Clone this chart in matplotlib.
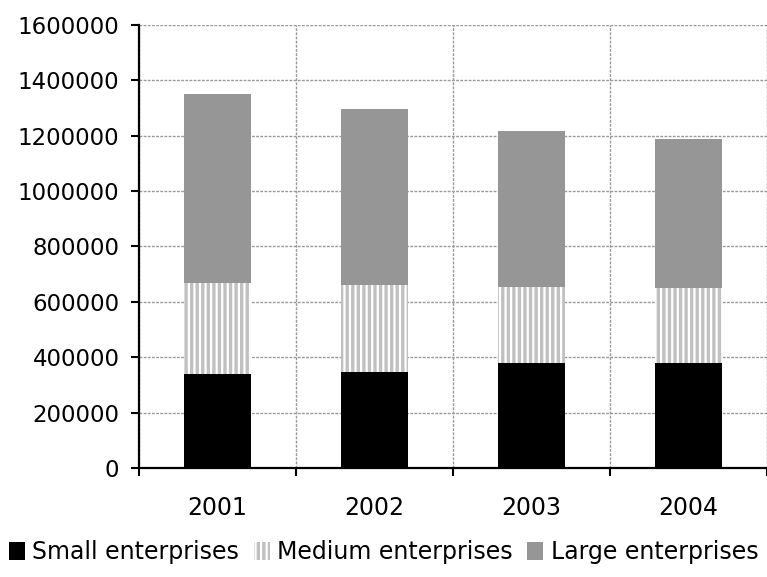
"""Enterprises by size class, stacked per year (2001-2004)."""

import matplotlib

matplotlib.use("Agg")
import matplotlib.pyplot as plt
import numpy as np
from matplotlib.patches import Patch

YEARS = ["2001", "2002", "2003", "2004"]
SMALL = [339000, 347000, 379000, 379000]
MEDIUM = [329000, 314000, 276000, 269000]
LARGE = [682000, 636000, 562000, 540000]

YTICKS = np.arange(0, 1600001, 200000)

plt.rcParams.update(
    {
        "font.family": "DejaVu Sans",
        "hatch.linewidth": 2.4,
    }
)

fig = plt.figure(figsize=(7.67, 5.77), dpi=100)
ax = fig.add_axes([0.181, 0.189, 0.819, 0.768])

x = np.arange(len(YEARS))
width = 0.43
small = np.array(SMALL)
medium = np.array(MEDIUM)
large = np.array(LARGE)

ax.bar(x, small, width, color="black", linewidth=0, zorder=3)
ax.bar(
    x,
    medium,
    width,
    bottom=small,
    facecolor="white",
    edgecolor="#c0c0c0",
    hatch="|||",
    linewidth=0,
    zorder=3,
)
ax.bar(x, large, width, bottom=small + medium, color="#969696", linewidth=0, zorder=3)

ax.set_xlim(-0.5, len(YEARS) - 0.5)
ax.set_ylim(0, 1600000)
ax.set_yticks(YTICKS)
ax.set_yticklabels([str(v) for v in YTICKS])

# category boundaries carry the ticks and gridlines, years sit in between
ax.set_xticks(np.arange(-0.5, len(YEARS), 1.0))
ax.set_xticklabels([])
ax.set_xticks(x, minor=True)
ax.set_xticklabels(YEARS, minor=True)
ax.tick_params(axis="x", which="minor", length=0, pad=20, labelsize=17)
ax.tick_params(axis="x", which="major", length=6, width=1.5, direction="out")
ax.tick_params(axis="y", length=6, width=1.5, direction="out", pad=8, labelsize=16.5)

ax.grid(True, which="major", color="#999999", linestyle=(0, (2, 1)), linewidth=1)
ax.set_axisbelow(True)

for side in ("top", "right"):
    ax.spines[side].set_visible(False)
for side in ("left", "bottom"):
    ax.spines[side].set_linewidth(1.6)
    ax.spines[side].set_color("black")

handles = [
    Patch(facecolor="black", edgecolor="black", linewidth=0, label="Small enterprises"),
    Patch(
        facecolor="white",
        edgecolor="#c0c0c0",
        hatch="|||",
        linewidth=0,
        label="Medium enterprises",
    ),
    Patch(facecolor="#969696", linewidth=0, label="Large enterprises"),
]
fig.legend(
    handles=handles,
    loc="lower center",
    bbox_to_anchor=(0.5, -0.015),
    ncols=3,
    frameon=False,
    fontsize=17,
    handlelength=0.7,
    handleheight=0.8,
    handletextpad=0.3,
    columnspacing=0.6,
)

fig.savefig("out.png", dpi=100)
